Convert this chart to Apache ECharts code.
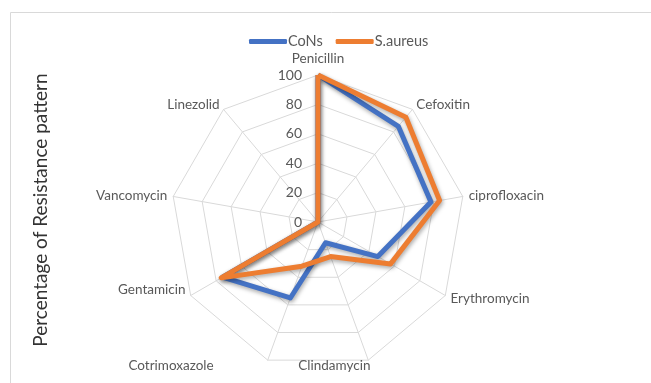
<!DOCTYPE html>
<html>
<head>
<meta charset="utf-8">
<script src="https://cdn.jsdelivr.net/npm/echarts@6/dist/echarts.min.js"></script>
<style>
html,body{margin:0;padding:0;background:#fff;}
#chart{width:651px;height:383px;}
</style>
</head>
<body>
<div id="chart"></div>
<script>
// Categories and values in clockwise reading order (starting at top)
const indicators = ['Penicillin','Cefoxitin','ciprofloxacin','Erythromycin','Clindamycin','Cotrimoxazole','Gentamicin','Vancomycin','Linezolid'];
const consValues = [100, 85, 78, 47, 15, 55, 75, 0, 0];
const aureusValues = [100, 93, 84, 57, 25, 32, 76, 0, 0];
const tickValues = [0, 20, 40, 60, 80, 100];
const seriesNames = ['CoNs', 'S.aureus'];

// ECharts radar runs counter-clockwise; reorder so the picture runs clockwise
const clockwise = arr => [arr[0]].concat(arr.slice(1).reverse());

const FONT = 'Lato';
const nameBase = {color: '#595959', fontSize: 13.5, fontFamily: FONT};
// per-label nudges (text styling only) to mimic the spreadsheet's label placement
const nameRich = {
  n0: Object.assign({padding: [0, 0, 3, 0]}, nameBase),
  n4: Object.assign({padding: [0, 0, 0, -72]}, nameBase),
  n5: Object.assign({padding: [0, 52, 0, 0]}, nameBase),
  n6: Object.assign({padding: [0, 0, 17, 0]}, nameBase),
  nx: Object.assign({}, nameBase)
};
const chart = echarts.init(document.getElementById('chart'), null, {renderer:'canvas'});
const option = {
  animation: false,
  textStyle: {fontFamily: FONT},
  graphic: [{
    type: 'rect', shape: {x: 10.5, y: 12.5, width: 700, height: 400},
    style: {fill: 'none', stroke: '#d9d9d9', lineWidth: 1}, silent: true, z: -10
  }, {
    type: 'text', rotation: Math.PI/2, x: 41, y: 210,
    style: {text: 'Percentage of Resistance pattern', font: '19px Lato', fill: '#333333',
            textAlign: 'center', textVerticalAlign: 'middle'}
  }],
  legend: {
    top: 29, left: 244,
    data: seriesNames,
    icon: 'roundRect', itemWidth: 38, itemHeight: 5, itemGap: 13,
    textStyle: {color: '#595959', fontSize: 14.5, fontFamily: FONT, padding: [0,0,0,-4]}
  },
  radar: {
    center: [318, 222], radius: 147,
    startAngle: 90, shape: 'polygon', splitNumber: 5,
    indicator: clockwise(indicators).map(n => ({name: n, min: 0, max: 100})),
    axisName: Object.assign({
      formatter: function (name) {
        const i = indicators.indexOf(name);
        const key = nameRich['n' + i] ? 'n' + i : 'nx';
        return '{' + key + '|' + name + '}';
      },
      rich: nameRich
    }, nameBase),
    nameGap: 6,
    splitLine: {lineStyle: {color: '#d9d9d9', width: 1}},
    splitArea: {show: false},
    axisLine: {lineStyle: {color: '#d9d9d9', width: 1}},
    axisTick: {show: false},
    axisLabel: {show: false}
  },
  grid: {left: 318, width: 1, top: 75, height: 147, outerBoundsMode: 'none', show: false},
  xAxis: {type: 'value', show: false},
  yAxis: {
    type: 'value', min: tickValues[0], max: tickValues[tickValues.length-1], interval: 20,
    axisLine: {show: false}, axisTick: {show: false}, splitLine: {show: false},
    axisLabel: {color: '#595959', fontSize: 14, fontFamily: FONT, margin: 16}
  },
  series: [{
    type: 'radar',
    symbol: 'none',
    data: [{
      name: seriesNames[0], value: clockwise(consValues),
      lineStyle: {color: '#4472C4', width: 5, shadowBlur: 4, shadowColor: 'rgba(0,0,0,0.35)', shadowOffsetX: 1, shadowOffsetY: 2},
      itemStyle: {color: '#4472C4'}
    }, {
      name: seriesNames[1], value: clockwise(aureusValues),
      lineStyle: {color: '#ED7D31', width: 5, shadowBlur: 4, shadowColor: 'rgba(0,0,0,0.35)', shadowOffsetX: 1, shadowOffsetY: 2},
      itemStyle: {color: '#ED7D31'}
    }]
  }]
};
chart.setOption(option);
</script>
</body>
</html>
